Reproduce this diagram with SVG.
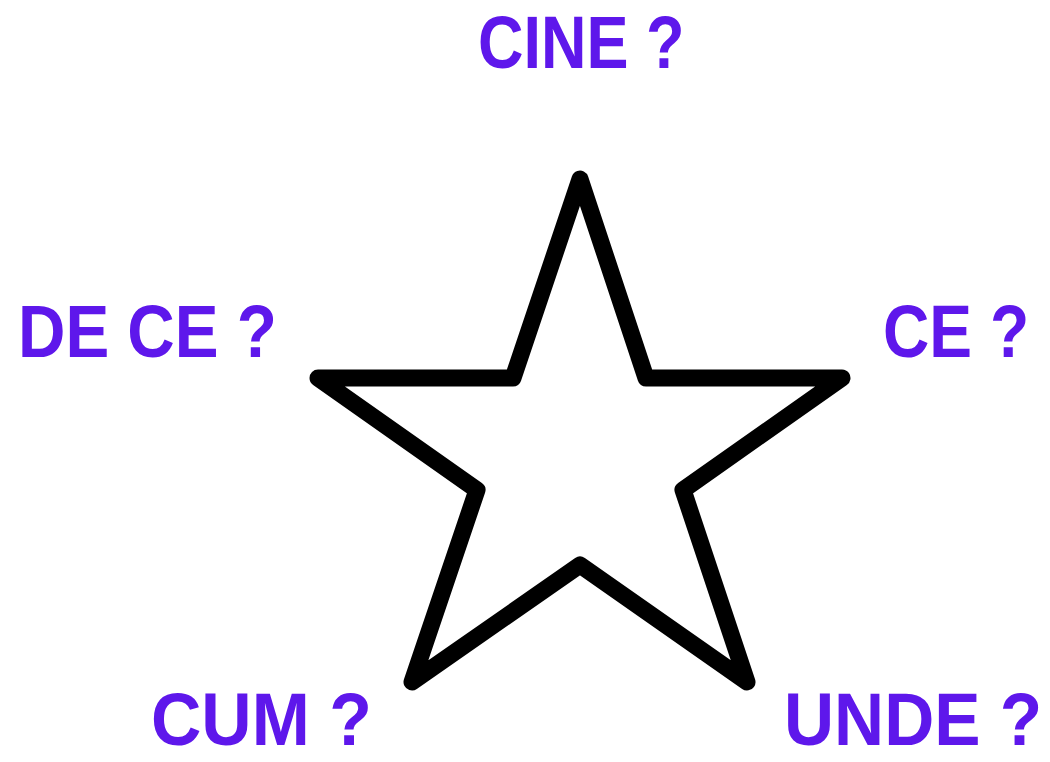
<svg xmlns="http://www.w3.org/2000/svg" width="1050" height="762" viewBox="0 0 1050 762">
<style>
.q{font-family:"Liberation Sans",Arial,sans-serif;font-weight:bold;font-size:75px;fill:#5e17eb}
.star{fill:#fff;stroke:#000;stroke-width:17;stroke-linejoin:round}
</style>
<rect width="1050" height="762" fill="#fff"/>
<g id="star">
<polygon class="star" points="580,179 513,378 318,378 477,490 412,682 580,565 747,682 683,490 842,378 646,378"/>
</g>
<g id="connectors"></g>
<g id="cine"><text class="q" transform="translate(478,68) scale(0.84,1)">CINE ?</text></g>
<g id="dece"><text class="q" transform="translate(18,357) scale(0.875,1)">DE CE ?</text></g>
<g id="ce"><text class="q" transform="translate(883,357) scale(0.855,1)">CE ?</text></g>
<g id="cum"><text class="q" transform="translate(151,745) scale(0.93,1)">CUM ?</text></g>
<g id="unde"><text class="q" transform="translate(784,745) scale(0.925,1)">UNDE ?</text></g>
</svg>
